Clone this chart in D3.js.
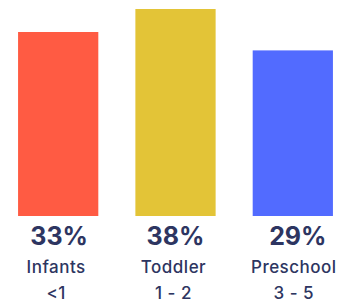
<!DOCTYPE html>
<html>
<head>
<meta charset="utf-8">
<script src="https://cdn.jsdelivr.net/npm/d3@7"></script>
<style>
  body { margin: 0; background: #fff; }
  text { font-family: Inter, "Open Sans", sans-serif; }
</style>
</head>
<body>
<script>
const categories = ["Infants", "Toddler", "Preschool"];
const ages = ["<1", "1 - 2", "3 - 5"];
const values = [33, 38, 29];
const colors = ["#ff5b43", "#e3c437", "#526bff"];

const width = 354, height = 304;
const base = 216;

const svg = d3.select("body").append("svg")
  .attr("width", width)
  .attr("height", height);

const x = d3.scaleBand()
  .domain(categories)
  .range([0, 351])
  .paddingInner(0.316)
  .paddingOuter(0.154);

const y = d3.scaleLinear()
  .domain([-7, 38])
  .range([base, 9]);

svg.selectAll("rect")
  .data(values)
  .join("rect")
    .attr("x", (d, i) => x(categories[i]))
    .attr("y", d => y(d))
    .attr("width", x.bandwidth())
    .attr("height", d => base - y(d))
    .attr("fill", (d, i) => colors[i]);

const lab = svg.append("g")
  .attr("fill", "#2d3561")
  .attr("text-anchor", "middle");

const shift = [1, 0, 5];

lab.selectAll(".pct")
  .data(values)
  .join("text")
    .attr("class", "pct")
    .attr("x", (d, i) => x(categories[i]) + x.bandwidth() / 2 + shift[i])
    .attr("y", 245)
    .attr("font-size", 25)
    .attr("font-weight", 700)
    .text(d => d + "%");

lab.selectAll(".cat")
  .data(categories)
  .join("text")
    .attr("class", "cat")
    .attr("x", (d, i) => x(d) + x.bandwidth() / 2 + (i == 2 ? 1 : -2))
    .attr("y", 273)
    .attr("font-size", 17)
    .attr("font-weight", 500)
    .attr("letter-spacing", 0.5)
    .text(d => d);

lab.selectAll(".age")
  .data(ages)
  .join("text")
    .attr("class", "age")
    .attr("x", (d, i) => x(categories[i]) + x.bandwidth() / 2 + (i == 2 ? 1 : -2))
    .attr("y", 299)
    .attr("font-size", 17)
    .attr("font-weight", 500)
    .attr("letter-spacing", 0.5)
    .text(d => d);
</script>
</body>
</html>
